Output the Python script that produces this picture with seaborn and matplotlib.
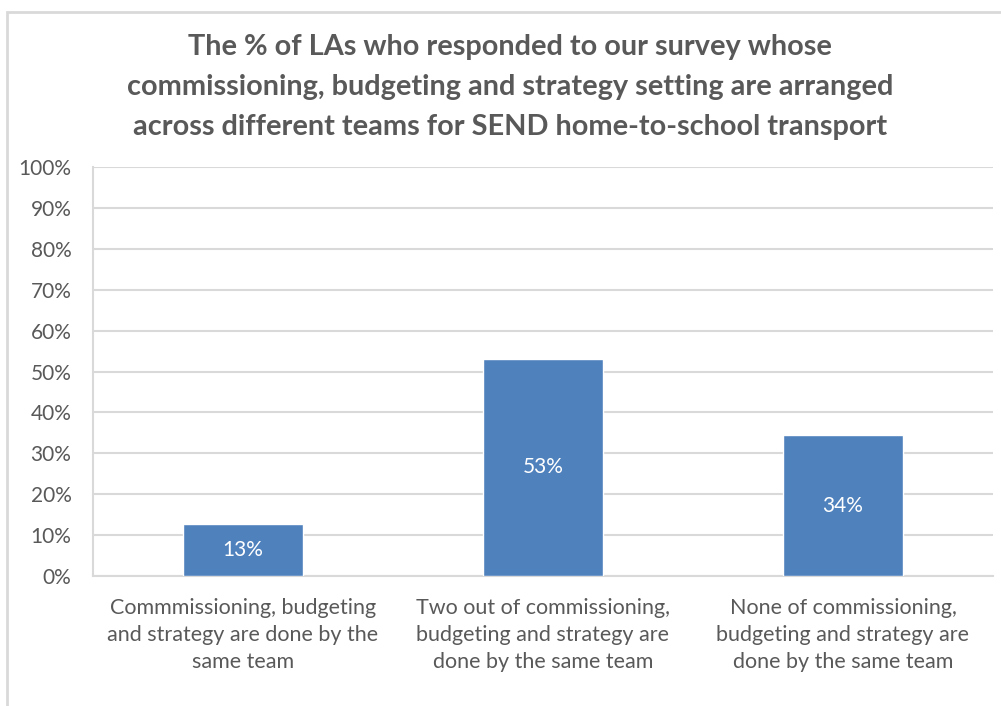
import matplotlib
matplotlib.use("Agg")
import matplotlib.pyplot as plt
import seaborn as sns
import pandas as pd
from matplotlib.patches import Rectangle
from matplotlib.ticker import PercentFormatter

# Chart data
categories = [
    "Commmissioning, budgeting\nand strategy are done by the\nsame team",
    "Two out of commissioning,\nbudgeting and strategy are\ndone by the same team",
    "None of commissioning,\nbudgeting and strategy are\ndone by the same team",
]
shares = [0.126, 0.531, 0.344]
bar_labels = ["13%", "53%", "34%"]
y_ticks = [0, 0.1, 0.2, 0.3, 0.4, 0.5, 0.6, 0.7, 0.8, 0.9, 1.0]
title = ("The % of LAs who responded to our survey whose\n"
         "commissioning, budgeting and strategy setting are arranged\n"
         "across different teams for SEND home-to-school transport")

df = pd.DataFrame({"category": categories, "share": shares})

sns.set_style("white")
plt.rcParams["font.family"] = ["Lato", "DejaVu Sans"]

grey = "#595959"
blue = "#4F81BD"
grid_col = "#D9D9D9"

fig = plt.figure(figsize=(10.01, 7.06), dpi=100)
ax = fig.add_axes([93 / 1001, 1 - 576 / 706, 900 / 1001, 409 / 706])

# Outer chart frame (only top and left edges visible in the crop)
fig.patches.append(Rectangle((7 / 1001, -0.05), 1.2, 1 - 12 / 706 + 0.05,
                             transform=fig.transFigure, fill=False,
                             edgecolor=grid_col, linewidth=2))

sns.barplot(data=df, x="category", y="share", color=blue, width=0.4,
            saturation=1, ax=ax, zorder=3)

ax.set_ylim(0, 1)
ax.set_yticks(y_ticks)
ax.yaxis.set_major_formatter(PercentFormatter(1.0, decimals=0))
ax.grid(axis="y", color=grid_col, linewidth=1.5, zorder=0)
ax.set_axisbelow(True)
for side in ["top", "right"]:
    ax.spines[side].set_visible(False)
ax.spines["left"].set_color(grid_col)
ax.spines["bottom"].set_color(grid_col)
ax.spines["left"].set_linewidth(1.5)
ax.spines["bottom"].set_linewidth(1.5)

ax.tick_params(axis="y", labelsize=15, colors=grey, length=0, pad=15.5)
ax.tick_params(axis="x", labelsize=15.5, colors=grey, length=0, pad=16)
for lbl in ax.get_xticklabels():
    lbl.set_linespacing(1.42)
ax.set_xlabel("")
ax.set_ylabel("")

ax.bar_label(ax.containers[0], labels=bar_labels, label_type="center",
             color="white", fontsize=15)

fig.text(510 / 1001, 1 - 87 / 706, title, ha="center", va="center",
         fontsize=20.8, fontweight="bold", color=grey, linespacing=1.66)

fig.savefig("out.png", dpi=100)
